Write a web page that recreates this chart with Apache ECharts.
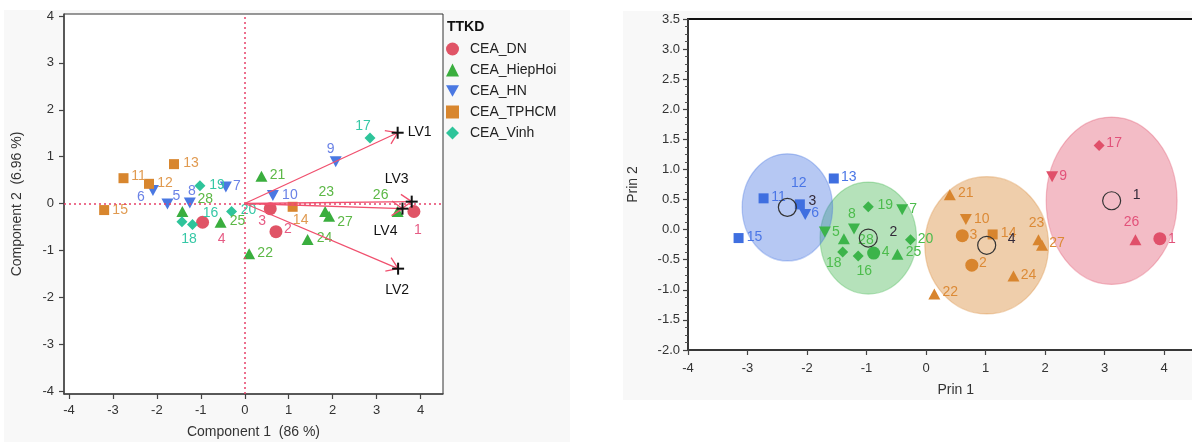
<!DOCTYPE html>
<html>
<head>
<meta charset="utf-8">
<script src="https://cdn.jsdelivr.net/npm/echarts@6/dist/echarts.min.js"></script>
<style>
  html, body { margin: 0; padding: 0; background: #ffffff; }
  #chart { width: 1192px; height: 442px; }
</style>
</head>
<body>
<div id="chart"></div>
<script>
// ---- data ----
const pointIds = [1, 2, 3, 4, 5, 6, 7, 8, 9, 10, 11, 12, 13, 14, 15, 16, 17, 18, 19, 20, 21, 22, 23, 24, 25, 26, 27, 28];
const pointGroup = [
  'CEA_DN', 'CEA_DN', 'CEA_DN', 'CEA_DN',
  'CEA_HN', 'CEA_HN', 'CEA_HN', 'CEA_HN', 'CEA_HN', 'CEA_HN',
  'CEA_TPHCM', 'CEA_TPHCM', 'CEA_TPHCM', 'CEA_TPHCM', 'CEA_TPHCM',
  'CEA_Vinh', 'CEA_Vinh', 'CEA_Vinh', 'CEA_Vinh', 'CEA_Vinh',
  'CEA_HiepHoi', 'CEA_HiepHoi', 'CEA_HiepHoi', 'CEA_HiepHoi', 'CEA_HiepHoi', 'CEA_HiepHoi', 'CEA_HiepHoi', 'CEA_HiepHoi'
];
const groupNames = ['CEA_DN', 'CEA_HiepHoi', 'CEA_HN', 'CEA_TPHCM', 'CEA_Vinh'];

// PLS scores (Component 1, Component 2)
const comp1 = [3.85, 0.71, 0.58, -0.96, -1.76, -2.09, -0.43, -1.25, 2.07, 0.64, -2.76, -2.18, -1.61, 1.09, -3.20, -1.19, 2.85, -1.43, -1.02, -0.30, 0.38, 0.10, 1.83, 1.43, -0.55, 3.48, 1.92, -1.42];
const comp2 = [-0.17, -0.60, -0.11, -0.40, -0.01, 0.28, 0.35, 0.01, 0.89, 0.17, 0.54, 0.42, 0.84, -0.07, -0.14, -0.45, 1.40, -0.39, 0.38, -0.17, 0.58, -1.07, -0.17, -0.77, -0.40, -0.17, -0.27, -0.17];

// X loadings
const loadingNames = ['LV1', 'LV2', 'LV3', 'LV4'];
const loadingX = [3.48, 3.49, 3.80, 3.59];
const loadingY = [1.51, -1.39, 0.04, -0.11];

// principal components and k-means clusters
const prin1 = [3.93, 0.77, 0.61, -0.88, -1.70, -2.03, -0.40, -1.21, 2.12, 0.67, -2.73, -2.12, -1.55, 1.12, -3.15, -1.14, 2.91, -1.40, -0.97, -0.26, 0.40, 0.14, 1.89, 1.47, -0.48, 3.52, 1.95, -1.38];
const prin2 = [-0.15, -0.59, -0.10, -0.39, -0.04, 0.25, 0.33, 0.01, 0.88, 0.17, 0.52, 0.42, 0.85, -0.08, -0.14, -0.44, 1.40, -0.37, 0.38, -0.17, 0.58, -1.07, -0.17, -0.77, -0.41, -0.17, -0.26, -0.15];
const pointCluster = [1, 4, 4, 2, 2, 3, 2, 2, 1, 4, 3, 3, 3, 4, 3, 2, 1, 2, 2, 2, 4, 4, 4, 4, 2, 1, 4, 2];

const clusterIds = [1, 2, 3, 4];
const clusterCx = [3.12, -0.97, -2.33, 1.02];
const clusterCy = [0.48, -0.14, 0.37, -0.26];
const clusterRx = [1.10, 0.81, 0.76, 1.04];
const clusterRy = [1.39, 0.93, 0.89, 1.14];

const leftTicks = [-4, -3, -2, -1, 0, 1, 2, 3, 4];

// ---- styles ----
const FONT = '"Liberation Sans", Arial, sans-serif';
const TRI_DOWN = 'path://M0,0L10,0L5,9Z';
const groupSymbol = { CEA_DN: 'circle', CEA_HiepHoi: 'triangle', CEA_HN: TRI_DOWN, CEA_TPHCM: 'rect', CEA_Vinh: 'diamond' };
const groupSize = { CEA_DN: 13, CEA_HiepHoi: [12, 11], CEA_HN: [12, 11], CEA_TPHCM: 10, CEA_Vinh: 11 };
const groupColor = { CEA_DN: '#e05466', CEA_HiepHoi: '#3aae3e', CEA_HN: '#4a78e2', CEA_TPHCM: '#d8862e', CEA_Vinh: '#2ec49a' };
const groupLabelColor = { CEA_DN: '#e65c84', CEA_HiepHoi: '#5cb846', CEA_HN: '#6a82e6', CEA_TPHCM: '#e09a50', CEA_Vinh: '#36c8a6' };

const clusterColor = { 1: '#e0506a', 2: '#3cb44a', 3: '#3f6fe0', 4: '#d8852e' };
const clusterFill = { 1: 'rgba(224,80,106,0.38)', 2: 'rgba(60,180,74,0.38)', 3: 'rgba(63,111,224,0.38)', 4: 'rgba(216,133,46,0.40)' };
const clusterEdge = { 1: 'rgba(224,80,106,0.35)', 2: 'rgba(60,180,74,0.35)', 3: 'rgba(63,111,224,0.35)', 4: 'rgba(216,133,46,0.35)' };
const clusterLabelColor = { 1: '#e2527a', 2: '#4cbc4c', 3: '#4a76e6', 4: '#dc8a36' };

// label offsets (px, from marker centre to text centre)
const leftLabelOffset = {
  1: [4, 19], 2: [12, -2], 3: [-8, 12], 4: [19, 17], 5: [9, -8], 6: [-12, 7], 7: [11, -1],
  8: [2, -12], 9: [-5, -13], 10: [17, 0], 11: [15, -2], 12: [16, -1], 13: [17, -1], 14: [8, 13],
  15: [16, 0], 16: [18, -11], 17: [-7, -12], 18: [7, 17], 19: [17, -1], 20: [17, -1], 21: [16, -1],
  22: [16, -1], 23: [1, -19], 24: [17, -1], 25: [17, -1], 26: [-17, -16], 27: [16, 6], 28: [23, -12]
};
const rightLabelOffset = {
  1: [12, 0], 2: [11, -2], 3: [11, -1], 4: [12, -1], 5: [11, 0], 6: [10, -1], 7: [11, -1],
  8: [-2, -15], 9: [11, -1], 10: [16, 0], 11: [15, -1], 12: [-1, -21], 13: [15, -1], 14: [16, -1],
  15: [16, -1], 16: [6, 15], 17: [15, -2], 18: [-9, 11], 19: [17, -2], 20: [15, -1], 21: [16, -2],
  22: [16, -2], 23: [-2, -17], 24: [15, -1], 25: [16, -2], 26: [-4, -18], 27: [15, -2], 28: [22, 1]
};
const loadingLabelOffset = { LV1: [22, -1], LV2: [-1, 21], LV3: [-15, -22], LV4: [-17, 22] };

const labelBase = {
  show: true, position: 'inside', formatter: '{b}', fontSize: 14, fontFamily: FONT,
  textBorderWidth: 0, textBorderColor: 'transparent', textShadowBlur: 0
};

// ---- left panel: score scatter by TTKD ----
const leftSeries = groupNames.map((g, gi) => {
  const data = [];
  pointIds.forEach((id, i) => {
    if (pointGroup[i] !== g) return;
    data.push({ name: String(id), value: [comp1[i], comp2[i]], label: { offset: leftLabelOffset[id] } });
  });
  const s = {
    type: 'scatter', name: g, xAxisIndex: 0, yAxisIndex: 0,
    symbol: groupSymbol[g], symbolSize: groupSize[g],
    itemStyle: { color: groupColor[g], opacity: 1 },
    label: Object.assign({}, labelBase, { color: groupLabelColor[g] }),
    emphasis: { disabled: true },
    z: 3, data
  };
  if (gi === 0) {
    s.markLine = {
      silent: true, symbol: ['none', 'none'], animation: false,
      label: { show: false },
      lineStyle: { color: '#e8406a', type: [2, 3], width: 1.5 },
      data: [{ xAxis: 0 }, { yAxis: 0 }]
    };
  }
  return s;
});

// loading vectors with arrow heads and "+" ends
const loadingSeries = {
  type: 'custom', name: 'loadings', xAxisIndex: 0, yAxisIndex: 0, z: 5, silent: true,
  data: loadingNames.map((n, i) => [loadingX[i], loadingY[i], i]),
  renderItem: function (params, api) {
    const end = api.coord([api.value(0), api.value(1)]);
    const o = api.coord([0, 0]);
    const name = loadingNames[api.value(2)];
    const ang = Math.atan2(end[1] - o[1], end[0] - o[0]);
    const L = 13, a = 0.6;
    const p1 = [end[0] - L * Math.cos(ang - a), end[1] - L * Math.sin(ang - a)];
    const p2 = [end[0] - L * Math.cos(ang + a), end[1] - L * Math.sin(ang + a)];
    const red = '#f0506e';
    const off = loadingLabelOffset[name];
    const c = 6;
    return {
      type: 'group',
      children: [
        { type: 'line', shape: { x1: o[0], y1: o[1], x2: end[0], y2: end[1] }, style: { stroke: red, lineWidth: 1.3 } },
        { type: 'polyline', shape: { points: [p1, end, p2] }, style: { stroke: red, lineWidth: 1.3, fill: null } },
        { type: 'line', shape: { x1: end[0] - c, y1: end[1], x2: end[0] + c, y2: end[1] }, style: { stroke: '#111', lineWidth: 2 } },
        { type: 'line', shape: { x1: end[0], y1: end[1] - c, x2: end[0], y2: end[1] + c }, style: { stroke: '#111', lineWidth: 2 } },
        { type: 'text', style: { text: name, x: end[0] + off[0], y: end[1] + off[1], align: 'center', verticalAlign: 'middle', font: '14px ' + FONT, fill: '#111' } }
      ]
    };
  }
};

// ---- right panel: clusters ----
const ellipseSeries = {
  type: 'custom', name: 'cluster ellipses', xAxisIndex: 1, yAxisIndex: 1, z: 1, silent: true,
  data: clusterIds.map((k, i) => [clusterCx[i], clusterCy[i], clusterRx[i], clusterRy[i], k]),
  renderItem: function (params, api) {
    const c = api.coord([api.value(0), api.value(1)]);
    const sx = api.size([api.value(2), 0])[0];
    const sy = api.size([0, api.value(3)])[1];
    const k = api.value(4);
    return {
      type: 'ellipse',
      shape: { cx: c[0], cy: c[1], rx: sx, ry: sy },
      style: { fill: clusterFill[k], stroke: clusterEdge[k], lineWidth: 1.2 }
    };
  }
};

const centerSeries = {
  type: 'custom', name: 'cluster centres', xAxisIndex: 1, yAxisIndex: 1, z: 6, silent: true,
  data: clusterIds.map((k, i) => [clusterCx[i], clusterCy[i], k]),
  renderItem: function (params, api) {
    const c = api.coord([api.value(0), api.value(1)]);
    const k = api.value(2);
    return {
      type: 'group',
      children: [
        { type: 'circle', shape: { cx: c[0], cy: c[1], r: 9 }, style: { fill: null, stroke: '#333', lineWidth: 1.2 } },
        { type: 'text', style: { text: String(k), x: c[0] + 25, y: c[1] - 6, align: 'center', verticalAlign: 'middle', font: '14px ' + FONT, fill: '#332a3a' } }
      ]
    };
  }
};

const clusterSeries = clusterIds.map(k => {
  const data = [];
  pointIds.forEach((id, i) => {
    if (pointCluster[i] !== k) return;
    const g = pointGroup[i];
    data.push({
      name: String(id), value: [prin1[i], prin2[i]],
      symbol: groupSymbol[g], symbolSize: groupSize[g],
      label: { offset: rightLabelOffset[id] }
    });
  });
  return {
    type: 'scatter', name: 'Cluster ' + k, xAxisIndex: 1, yAxisIndex: 1, z: 3,
    itemStyle: { color: clusterColor[k], opacity: 1 },
    label: Object.assign({}, labelBase, { color: clusterLabelColor[k] }),
    emphasis: { disabled: true },
    data
  };
});

// ---- axes ----
const tickLabel = { fontSize: 13, color: '#333', fontFamily: FONT };
const nameStyle = { fontSize: 14, color: '#333', fontFamily: FONT };

const option = {
  animation: false,
  backgroundColor: '#ffffff',
  textStyle: { fontFamily: FONT },
  graphic: [
    { type: 'rect', z: -100, shape: { x: 4, y: 10, width: 566, height: 432 }, style: { fill: '#f8f8f8' }, silent: true },
    { type: 'rect', z: -100, shape: { x: 623, y: 11, width: 569, height: 389 }, style: { fill: '#f8f8f8' }, silent: true },
    { type: 'text', left: 447, top: 20, style: { text: 'TTKD', font: 'bold 14px ' + FONT, fill: '#111' } }
  ],
  legend: {
    orient: 'vertical', left: 441, top: 37, itemWidth: 13, itemHeight: 13, itemGap: 7,
    selectedMode: false,
    textStyle: { fontSize: 14, color: '#222', fontFamily: FONT, padding: [0, 0, 0, 6] },
    data: groupNames.map(g => ({ name: g, icon: groupSymbol[g], itemStyle: { color: groupColor[g] } }))
  },
  grid: [
    { left: 64, top: 14, width: 379, height: 380, outerBoundsMode: 'none', show: true, backgroundColor: '#ffffff', borderColor: '#333', borderWidth: 1 },
    { left: 688, top: 19, width: 535.5, height: 331, outerBoundsMode: 'none', show: true, backgroundColor: '#ffffff', borderColor: '#111', borderWidth: 2 }
  ],
  xAxis: [
    {
      gridIndex: 0, type: 'value', min: -4.114, max: 4.512,
      name: 'Component 1  (86 %)', nameLocation: 'middle', nameGap: 31, nameTextStyle: nameStyle,
      axisLine: { onZero: false, lineStyle: { color: '#444', width: 1.5 } },
      axisTick: { customValues: leftTicks, length: 5, lineStyle: { color: '#444', width: 1.2 } },
      axisLabel: Object.assign({ customValues: leftTicks, margin: 10 }, tickLabel),
      splitLine: { show: false }
    },
    {
      gridIndex: 1, type: 'value', min: -4, max: 5, interval: 1,
      name: 'Prin 1', nameLocation: 'middle', nameGap: 33, nameTextStyle: nameStyle,
      axisLine: { onZero: false, lineStyle: { color: '#444', width: 1.5 } },
      axisTick: { length: 5, lineStyle: { color: '#444', width: 1.2 } },
      axisLabel: Object.assign({ margin: 12 }, tickLabel),
      splitLine: { show: false }
    }
  ],
  yAxis: [
    {
      gridIndex: 0, type: 'value', min: -4.064, max: 4.043,
      name: 'Component 2  (6.96 %)', nameLocation: 'middle', nameGap: 40, nameTextStyle: nameStyle,
      axisLine: { onZero: false, lineStyle: { color: '#444', width: 1.5 } },
      axisTick: { customValues: leftTicks, length: 5, lineStyle: { color: '#444', width: 1.2 } },
      axisLabel: Object.assign({ customValues: leftTicks, margin: 10 }, tickLabel),
      splitLine: { show: false }
    },
    {
      gridIndex: 1, type: 'value', min: -2, max: 3.5, interval: 0.5,
      name: 'Prin 2', nameLocation: 'middle', nameGap: 48, nameTextStyle: nameStyle,
      axisLine: { onZero: false, lineStyle: { color: '#444', width: 1.5 } },
      axisTick: { length: 5, lineStyle: { color: '#444', width: 1.2 } },
      minorTick: { show: true, splitNumber: 4, length: 3, lineStyle: { color: '#555', width: 1 } },
      axisLabel: Object.assign({ margin: 8, formatter: v => v.toFixed(1) }, tickLabel),
      splitLine: { show: false }
    }
  ],
  series: [].concat(leftSeries, [loadingSeries, ellipseSeries], clusterSeries, [centerSeries])
};

const chart = echarts.init(document.getElementById('chart'), null, { renderer: 'canvas' });
chart.setOption(option);
</script>
</body>
</html>
